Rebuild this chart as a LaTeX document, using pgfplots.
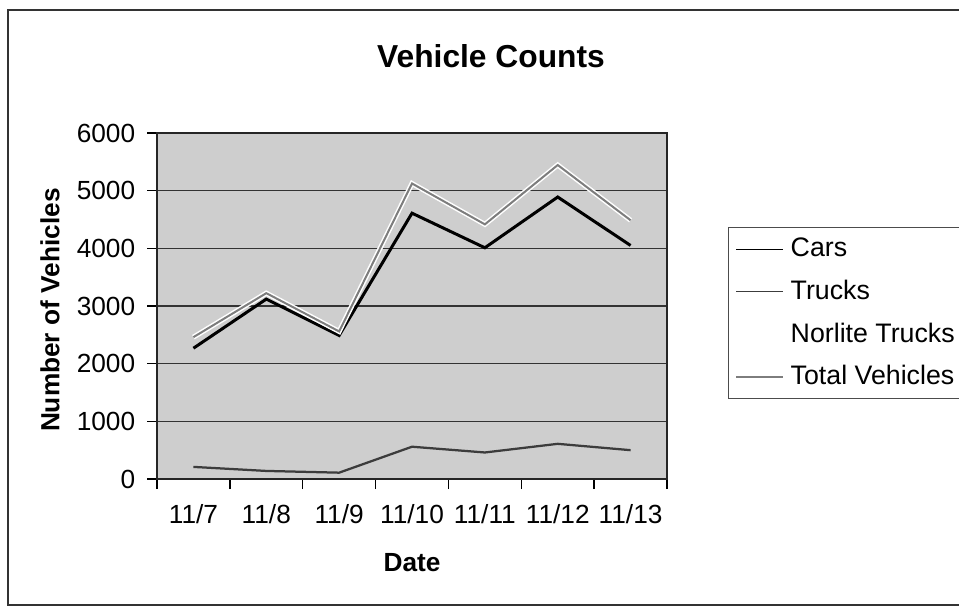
\documentclass[border=0pt]{standalone}
\usepackage{pgfplots}
\pgfplotsset{compat=1.18}
\usepackage{fontspec}
\setmainfont{Liberation Sans}
\definecolor{plotbg}{RGB}{206,206,206}
\definecolor{trucksc}{RGB}{60,60,60}
\definecolor{totalc}{RGB}{125,125,125}
\begin{document}
\begin{tikzpicture}[x=0.4pt,y=0.4pt]
\path[use as bounding box] (0,0) rectangle (959,609);
\fill[white] (0,0) rectangle (959,609);
\draw[line width=1.1pt, black!80] (980,599) -- (8,599) -- (8,4) -- (980,4);
\node[font=\fontsize{12.7}{15}\selectfont\bfseries] at (491,553) {Vehicle Counts};
\begin{axis}[
  at={(62.8pt,52pt)}, anchor=south west, scale only axis,
  width=204pt, height=138.4pt,
  xmin=-0.5, xmax=6.5, ymin=0, ymax=6000,
  xtick={0,1,2,3,4,5,6},
  xticklabels={11/7,11/8,11/9,11/10,11/11,11/12,11/13},
  major x tick style={draw=none},
  minor xtick={-0.5,0.5,1.5,2.5,3.5,4.5,5.5,6.5},
  ytick={0,1000,2000,3000,4000,5000,6000},
  tick align=outside, xtick pos=lower, ytick pos=left,
  major tick length=4pt, minor tick length=4pt,
  tick style={black, line width=0.6pt},
  ymajorgrids, grid style={black!80, line width=0.6pt},
  axis line style={black!85, line width=0.8pt},
  axis background/.style={fill=plotbg},
  /pgf/number format/1000 sep={},
  /pgf/number format/assume math mode=true,
  tick label style={font=\fontsize{10.5}{12}\selectfont},
  yticklabel style={xshift=-1.2pt},
  xticklabel style={yshift=-2.5pt},
  xlabel={Date}, ylabel={Number of Vehicles},
  label style={font=\fontsize{10.5}{12}\selectfont\bfseries},
  xlabel style={at={(axis description cs:0.5,-0.243)}, anchor=center},
  ylabel style={at={(axis description cs:-0.21,0.488)}, anchor=center},
  legend cell align=left,
  legend style={at={(1.12,0.728)}, anchor=north west, draw=black!70,
    fill=none, font=\fontsize{10.7}{12}\selectfont, row sep=3.8pt,
    inner xsep=2pt, inner ysep=2.2pt},
  legend image code/.code={\draw[#1, line width=0.6pt] (0pt,0pt) -- (18.8pt,0pt);},
]
\addplot[black, line width=1.2pt] coordinates {
 (0,2268) (1,3120) (2,2490) (3,4610) (4,4010) (5,4890) (6,4050)};
\addlegendentry{Cars}
\addplot[trucksc, line width=0.9pt] coordinates {
 (0,210) (1,140) (2,110) (3,560) (4,460) (5,610) (6,500)};
\addlegendentry{Trucks}
\addlegendimage{legend image code/.code={}}
\addlegendentry{Norlite Trucks}
\addplot[totalc, line width=0.8pt, preaction={draw=white, line width=2pt}] coordinates {
 (0,2460) (1,3223) (2,2559) (3,5125) (4,4416) (5,5445) (6,4487)};
\addlegendentry{Total Vehicles}
\end{axis}
\end{tikzpicture}
\end{document}
